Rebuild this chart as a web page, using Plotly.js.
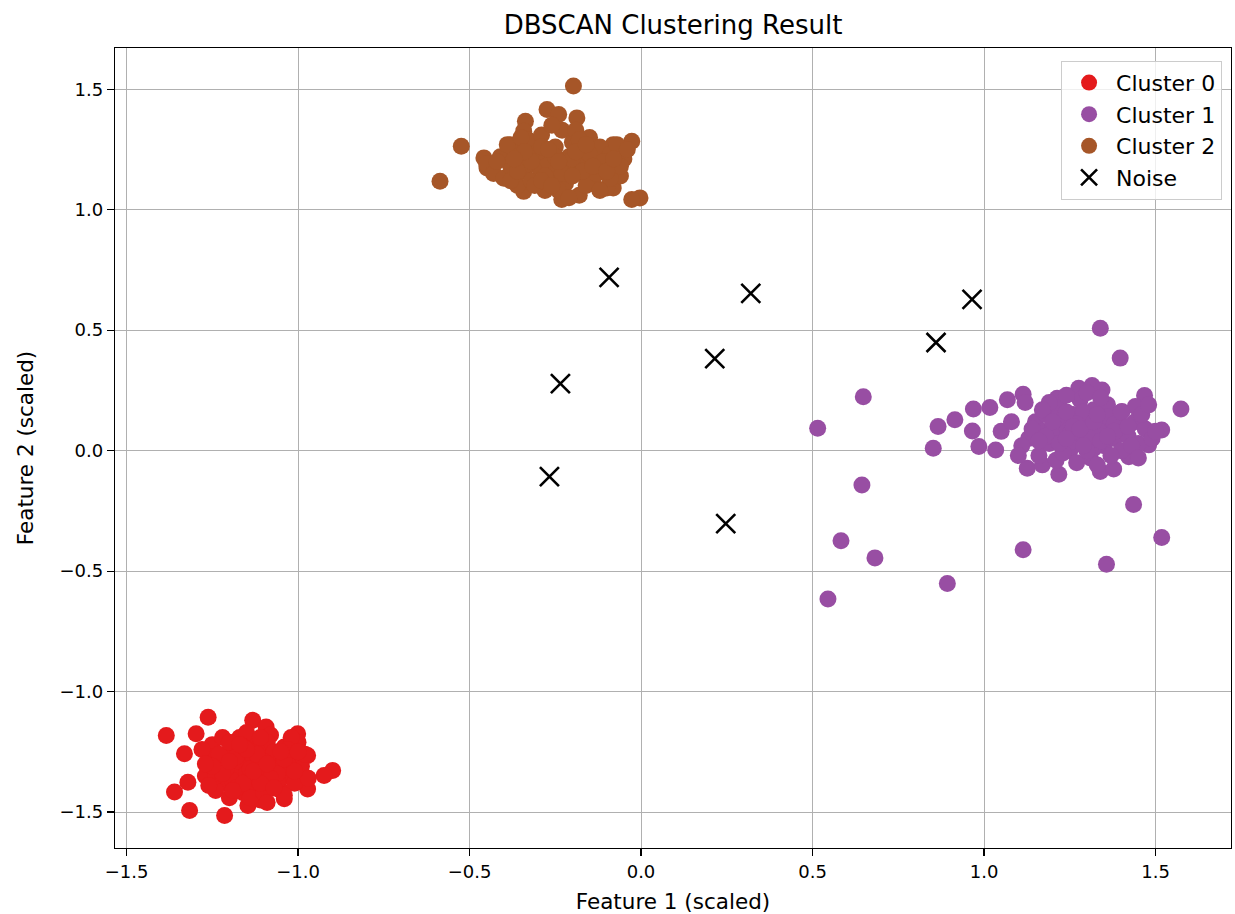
<!DOCTYPE html>
<html>
<head>
<meta charset="utf-8">
<script src="https://cdn.plot.ly/plotly-3.0.1.min.js"></script>
<style>html,body{margin:0;padding:0;background:#fff;}#chart{width:1235px;height:914px;}</style>
</head>
<body>
<div id="chart"></div>
<script>
// ---- Data ----
const cluster0X = [-1.384,-1.262,-1.132,-1.093,-1.001,-1.297,-1.331,-1.360,-1.316,-1.214,-0.899,-0.924,-0.972,-0.972,-1.321,-1.146,-1.040,
  -1.25,-1.23,-1.21,-1.24,-1.19,-1.18,-1.17,-1.16,-1.15,-1.14,-1.13,-1.12,-1.11,-1.10,-1.09,-1.08,-1.07,-1.06,-1.05,-1.04,-1.03,-1.02,-1.01,-1.00,-0.99,
  -1.20,-1.22,-1.27,-1.26,-1.28,-1.13,-1.15,-1.09,-1.06,-1.11,-1.17,-1.19,-1.14,-1.04,-1.02,-0.98,-0.97,-1.12,-1.08,-1.16,-1.21,-1.10,-1.05,-1.13,-1.18,
  -1.23,-1.07,-1.03,-1.15,-1.11,-1.20,-1.24,-1.09,-1.01,-1.26,
  -1.18,-1.14,-1.10,-1.06,-1.22,-1.16,-1.12,-1.08,-1.04,-1.20,-1.15,-1.11,-1.07,-1.03,-1.19,-1.13,-1.09,-1.05,-1.25,-1.17,-1.00,-1.27];
const cluster0Y = [-1.182,-1.106,-1.119,-1.147,-1.175,-1.175,-1.258,-1.417,-1.493,-1.514,-1.327,-1.348,-1.265,-1.404,-1.376,-1.473,-1.445,
  -1.22,-1.30,-1.38,-1.41,-1.25,-1.33,-1.19,-1.42,-1.28,-1.36,-1.22,-1.31,-1.45,-1.26,-1.39,-1.18,-1.33,-1.29,-1.41,-1.23,-1.35,-1.27,-1.38,-1.21,-1.31,
  -1.44,-1.19,-1.35,-1.27,-1.24,-1.40,-1.17,-1.21,-1.37,-1.34,-1.29,-1.37,-1.44,-1.43,-1.19,-1.26,-1.36,-1.24,-1.30,-1.23,-1.32,-1.42,-1.32,-1.28,-1.40,
  -1.26,-1.25,-1.30,-1.34,-1.19,-1.21,-1.35,-1.46,-1.33,-1.39,
  -1.27,-1.32,-1.29,-1.34,-1.34,-1.38,-1.26,-1.36,-1.28,-1.29,-1.24,-1.38,-1.40,-1.24,-1.41,-1.33,-1.30,-1.25,-1.31,-1.22,-1.25,-1.30];

const cluster1X = [1.339,1.397,0.648,0.515,1.574,0.644,1.436,0.583,0.682,1.114,1.518,1.357,0.893,0.545,0.852,0.866,0.915,0.969,1.017,0.966,1.068,1.114,1.468,1.518,1.480,1.422,1.218,1.339,1.378,1.126,1.170,0.985,1.034,1.402,1.441,1.213,1.276,1.344,1.315,
  1.13,1.15,1.16,1.17,1.18,1.19,1.20,1.21,1.22,1.23,1.24,1.25,1.26,1.27,1.28,1.29,1.30,1.31,1.32,1.33,1.34,1.35,1.36,1.37,1.38,1.39,1.40,1.41,1.42,1.44,1.45,1.47,1.49,1.50,
  1.19,1.24,1.30,1.34,1.27,1.33,1.22,1.26,1.28,1.31,1.35,1.29,1.25,1.32,1.36,1.38,1.21,1.17,1.14,1.11,1.23,1.40,1.43,1.46,1.30,1.27,1.33,1.24,1.20,1.37,1.05,1.08,1.10,1.12,1.48,1.45,
  1.18,1.22,1.26,1.30,1.34,1.38,1.42,1.20,1.24,1.28,1.32,1.36,1.16,1.29,1.33];
const cluster1Y = [0.508,0.384,0.224,0.093,0.173,-0.143,-0.223,-0.374,-0.445,-0.411,-0.360,-0.471,-0.551,-0.616,0.010,0.100,0.128,0.173,0.179,0.082,0.211,0.234,0.229,0.086,0.024,-0.025,-0.098,-0.087,-0.076,-0.073,-0.059,0.017,0.003,0.162,0.183,0.217,0.259,0.252,0.270,
  0.05,0.12,-0.02,0.08,0.15,0.03,0.10,-0.04,0.18,0.06,0.12,0.00,0.15,0.08,0.21,0.04,0.11,-0.03,0.17,0.07,0.13,0.02,0.19,0.09,0.05,0.14,0.00,0.10,0.06,0.12,0.03,0.09,0.05,0.08,
  0.20,0.23,0.24,0.22,-0.05,-0.06,0.09,0.04,0.13,0.06,0.10,0.16,0.07,0.01,0.14,0.11,0.13,0.17,0.09,0.02,-0.01,0.16,0.02,0.15,0.00,0.11,0.09,0.16,0.06,-0.02,0.08,0.12,-0.02,0.20,0.19,-0.03,
  0.06,0.03,0.10,0.07,0.04,0.08,0.10,0.12,0.05,0.09,0.12,0.06,0.04,0.02,0.15];

const cluster2X = [-0.197,-0.586,-0.524,-0.274,-0.240,-0.337,-0.187,-0.027,-0.003,-0.027,-0.231,-0.458,-0.449,-0.342,-0.081,-0.081,-0.381,-0.342,
  -0.45,-0.43,-0.41,-0.40,-0.38,-0.37,-0.36,-0.35,-0.34,-0.33,-0.32,-0.31,-0.30,-0.29,-0.28,-0.27,-0.26,-0.25,-0.24,-0.23,-0.22,-0.21,-0.20,-0.19,-0.18,-0.17,-0.16,-0.15,-0.14,-0.13,-0.12,-0.11,-0.10,-0.09,-0.08,-0.07,-0.06,-0.05,-0.04,
  -0.39,-0.35,-0.30,-0.26,-0.22,-0.19,-0.16,-0.13,-0.28,-0.24,-0.20,-0.17,-0.42,-0.33,-0.29,-0.21,-0.15,-0.11,-0.09,-0.18,-0.25,-0.31,-0.38,-0.12,-0.06,
  -0.36,-0.32,-0.27,-0.23,-0.19,-0.14,-0.10,-0.34,-0.29,-0.24,-0.20,-0.16,-0.37,-0.08,-0.26];
const cluster2Y = [1.513,1.118,1.263,1.416,1.395,1.367,1.381,1.284,1.049,1.042,1.042,1.215,1.173,1.076,1.090,1.270,1.270,1.326,
  1.19,1.15,1.22,1.13,1.18,1.25,1.10,1.21,1.16,1.29,1.12,1.23,1.18,1.31,1.08,1.20,1.14,1.26,1.17,1.33,1.11,1.22,1.28,1.15,1.06,1.24,1.19,1.30,1.12,1.21,1.26,1.16,1.09,1.23,1.18,1.27,1.14,1.21,1.25,
  1.27,1.30,1.24,1.35,1.18,1.33,1.10,1.15,1.14,1.08,1.21,1.16,1.20,1.19,1.26,1.05,1.23,1.20,1.13,1.29,1.22,1.10,1.12,1.08,1.18,
  1.16,1.20,1.25,1.15,1.24,1.18,1.16,1.24,1.12,1.20,1.14,1.27,1.21,1.21,1.10];

const noiseX = [-0.093,0.320,0.965,0.215,0.860,-0.235,-0.267,0.247];
const noiseY = [0.719,0.653,0.628,0.382,0.449,0.278,-0.108,-0.303];

const seriesNames = ["Cluster 0","Cluster 1","Cluster 2","Noise"];
const seriesColors = ["#e41a1c","#984ea3","#a65628","#000000"];

// ---- Chart ----
const font = "DejaVu Sans, Liberation Sans, sans-serif";
function dots(x, y, i) {
  return {type:"scatter", mode:"markers", x:x, y:y, name:seriesNames[i],
    marker:{color:seriesColors[i], size:17, line:{width:0}}, hoverinfo:"x+y"};
}
const traces = [
  dots(cluster0X, cluster0Y, 0),
  dots(cluster1X, cluster1Y, 1),
  dots(cluster2X, cluster2Y, 2),
  {type:"scatter", mode:"markers", x:noiseX, y:noiseY, name:seriesNames[3],
   marker:{symbol:"x-thin", size:19, color:seriesColors[3], line:{width:2.6, color:seriesColors[3]}}}
];
const tickVals = [-1.5,-1,-0.5,0,0.5,1,1.5];
const tickText = ["\u22121.5","\u22121.0","\u22120.5","0.0","0.5","1.0","1.5"];
const axisCommon = {
  showline:true, mirror:true, linecolor:"#000", linewidth:1.2,
  ticks:"outside", ticklen:7, tickwidth:1.2, tickcolor:"#000",
  showgrid:true, gridcolor:"#b0b0b0", gridwidth:1, zeroline:false,
  tickfont:{family:font, size:18, color:"#000"}, automargin:false,
  tickvals:tickVals, ticktext:tickText
};
const layout = {
  width:1235, height:914,
  margin:{l:115, r:4, t:48, b:66},
  paper_bgcolor:"#fff", plot_bgcolor:"#fff",
  title:{text:"DBSCAN Clustering Result", font:{family:font, size:26, color:"#000"},
    x:0.5, xref:"paper", y:1-25/914, yref:"container", yanchor:"middle"},
  xaxis:Object.assign({}, axisCommon, {range:[-1.5335,1.7200],
    title:{text:"Feature 1 (scaled)", font:{family:font, size:21.5, color:"#000"}, standoff:13}}),
  yaxis:Object.assign({}, axisCommon, {range:[-1.649,1.671],
    title:{text:"Feature 2 (scaled)", font:{family:font, size:21.5, color:"#000"}, standoff:20}}),
  legend:{x:0.992, xanchor:"right", y:0.984, yanchor:"top",
    bgcolor:"rgba(255,255,255,0.8)", bordercolor:"#cccccc", borderwidth:1,
    font:{family:font, size:22, color:"#000"}, itemwidth:44, tracegroupgap:0},
  showlegend:true
};
Plotly.newPlot("chart", traces, layout, {displayModeBar:false, staticPlot:true});
</script>
</body>
</html>
